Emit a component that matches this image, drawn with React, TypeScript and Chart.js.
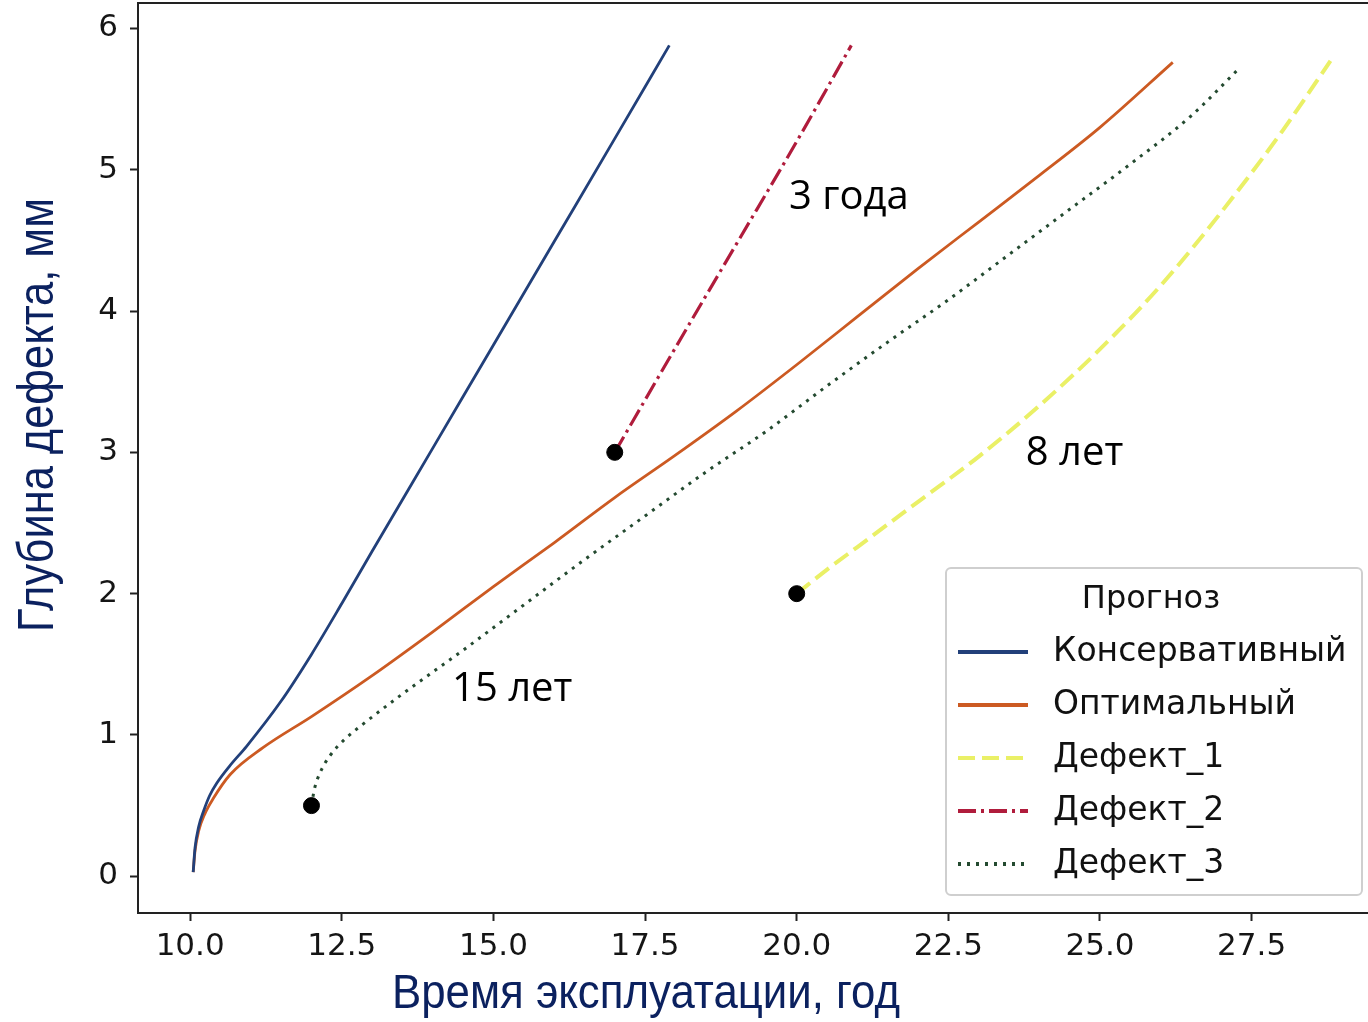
import React, { useEffect, useRef } from "react";
import { Chart, registerables } from "chart.js";

Chart.register(...registerables);

// ---- data ----
const seriesLabels = ["Консервативный", "Оптимальный", "Дефект_1", "Дефект_2", "Дефект_3"];
const legendTitle = "Прогноз";
const xTitle = "Время эксплуатации, год";
const yTitle = "Глубина дефекта, мм";

const conservX = [10.05, 10.08, 10.14, 10.22, 10.32, 10.44, 10.65, 10.93, 11.5, 12, 12.5, 13, 14, 15, 16, 17, 17.9];
const conservY = [0.03, 0.2, 0.35, 0.46, 0.57, 0.66, 0.78, 0.92, 1.24, 1.57, 1.93, 2.3, 3.03, 3.76, 4.49, 5.22, 5.88];

const optimalX = [10.05, 10.08, 10.14, 10.24, 10.38, 10.66, 11.2, 12, 13, 14, 15, 16, 17, 18, 19, 20, 21, 22, 23, 24, 25, 26.2];
const optimalY = [0.03, 0.18, 0.32, 0.44, 0.55, 0.72, 0.91, 1.13, 1.42, 1.73, 2.05, 2.36, 2.68, 2.98, 3.29, 3.62, 3.96, 4.3, 4.63, 4.96, 5.3, 5.76];

const defect1X = [20, 20.5, 21, 22, 23, 24, 25, 26, 27, 28, 28.8];
const defect1Y = [2, 2.17, 2.33, 2.65, 2.97, 3.33, 3.73, 4.18, 4.7, 5.27, 5.77];

const defect2X = [17, 18, 19, 20, 20.9];
const defect2Y = [3, 3.74, 4.47, 5.2, 5.88];

const defect3X = [12, 12.05, 12.15, 12.3, 12.55, 12.86, 13.5, 14.5, 15.5, 16.5, 17.5, 18.5, 19.5, 20.5, 21.5, 22.5, 23.5, 24.5, 25.5, 26.5, 27.3];
const defect3Y = [0.5, 0.62, 0.74, 0.85, 0.97, 1.08, 1.29, 1.6, 1.92, 2.24, 2.55, 2.86, 3.15, 3.47, 3.78, 4.08, 4.4, 4.72, 5.04, 5.38, 5.72];

const startX = [12, 17, 20];
const startY = [0.5, 3, 2];

const annotationTexts = ["3 года", "8 лет", "15 лет"];
const annotationX = [20.86, 24.58, 15.31];
const annotationY = [4.8, 2.99, 1.32];

const xTicks = [10, 12.5, 15, 17.5, 20, 22.5, 25, 27.5];
const yTicks = [0, 1, 2, 3, 4, 5, 6];

const X_MIN = 9.14;
const X_MAX = 29.6;
const Y_MIN = -0.26;
const Y_MAX = 6.18;

const pts = (xs: number[], ys: number[]) => xs.map((x, i) => ({ x, y: ys[i] }));

const TITLE_COLOR = "#0b215f";

function fitText(ctx: CanvasRenderingContext2D, text: string, cx: number, baseline: number, targetW: number) {
  const w = ctx.measureText(text).width;
  ctx.save();
  ctx.translate(cx, baseline);
  ctx.scale(targetW / w, 1);
  ctx.textAlign = "center";
  ctx.textBaseline = "alphabetic";
  ctx.fillText(text, 0, 0);
  ctx.restore();
}

const decorPlugin = {
  id: "decor",
  afterDatasetsDraw(chart: any) {
    const { ctx, chartArea, scales } = chart;
    const xs = scales.x;
    const ys = scales.y;

    // frame top + right
    ctx.save();
    ctx.strokeStyle = "#222";
    ctx.lineWidth = 2;
    ctx.beginPath();
    ctx.moveTo(chartArea.left, chartArea.top);
    ctx.lineTo(chartArea.right, chartArea.top);
    ctx.lineTo(chartArea.right, chartArea.bottom);
    ctx.stroke();
    ctx.restore();

    // annotations
    ctx.save();
    ctx.fillStyle = "#000";
    ctx.font = "40px 'Open Sans'";
    ctx.textAlign = "center";
    ctx.textBaseline = "middle";
    annotationTexts.forEach((t, i) => {
      ctx.fillText(t, xs.getPixelForValue(annotationX[i]), ys.getPixelForValue(annotationY[i]));
    });
    ctx.restore();

    // legend
    const boxW = 416;
    const boxH = 327;
    const right = chartArea.right - 17;
    const bottom = chartArea.bottom - 18;
    const left = right - boxW;
    const top = bottom - boxH;
    ctx.save();
    ctx.fillStyle = "rgba(255,255,255,0.85)";
    ctx.strokeStyle = "#cfcfcf";
    ctx.lineWidth = 2;
    ctx.beginPath();
    if ((ctx as any).roundRect) (ctx as any).roundRect(left, top, boxW, boxH, 5);
    else ctx.rect(left, top, boxW, boxH);
    ctx.fill();
    ctx.stroke();

    ctx.fillStyle = "#111";
    ctx.font = "32px 'DejaVu Sans'";
    ctx.textBaseline = "middle";
    ctx.textAlign = "center";
    ctx.fillText(legendTitle, left + boxW / 2 - 3, top + 32);
    ctx.textAlign = "left";
    ctx.font = "33px 'DejaVu Sans'";
    const dsList = chart.data.datasets.filter((d: any) => seriesLabels.includes(d.label));
    dsList.forEach((d: any, i: number) => {
      const ry = top + 84 + i * 53;
      ctx.strokeStyle = d.borderColor;
      ctx.lineWidth = 4;
      ctx.lineCap = "butt";
      ctx.setLineDash(d.borderDash || []);
      ctx.beginPath();
      ctx.moveTo(left + 12, ry);
      ctx.lineTo(left + 82, ry);
      ctx.stroke();
      ctx.setLineDash([]);
      ctx.fillStyle = "#111";
      ctx.fillText(d.label, left + 107, ry);
    });
    ctx.restore();

    // axis titles (condensed)
    ctx.save();
    ctx.fillStyle = TITLE_COLOR;
    ctx.font = "48px 'Liberation Sans'";
    fitText(ctx, xTitle, 646, 1008, 508);
    ctx.restore();

    ctx.save();
    ctx.fillStyle = TITLE_COLOR;
    ctx.font = "50px 'Liberation Sans'";
    ctx.translate(53, 415);
    ctx.rotate(-Math.PI / 2);
    fitText(ctx, yTitle, 0, 0, 434);
    ctx.restore();
  },
};

export default function App() {
  const ref = useRef<HTMLCanvasElement | null>(null);

  useEffect(() => {
    const canvas = ref.current;
    if (!canvas) return;
    const lineDs = (label: string, data: any[], color: string, width: number, dash: number[]) => ({
      label,
      data,
      showLine: true,
      borderColor: color,
      backgroundColor: color,
      borderWidth: width,
      borderDash: dash,
      borderCapStyle: "butt",
      pointRadius: 0,
      pointHoverRadius: 0,
      cubicInterpolationMode: "monotone",
      fill: false,
    });

    const chart = new Chart(canvas, {
      type: "scatter",
      data: {
        datasets: [
          {
            label: "start",
            data: pts(startX, startY),
            showLine: false,
            pointRadius: 8,
            pointHoverRadius: 8,
            pointBackgroundColor: "#000",
            pointBorderColor: "#000",
            borderColor: "#000",
            backgroundColor: "#000",
          } as any,
          lineDs(seriesLabels[0], pts(conservX, conservY), "#22407a", 2.8, []),
          lineDs(seriesLabels[1], pts(optimalX, optimalY), "#cc5a22", 2.8, []),
          lineDs(seriesLabels[2], pts(defect1X, defect1Y), "#eaf066", 4, [17, 7]),
          lineDs(seriesLabels[3], pts(defect2X, defect2Y), "#b01c3c", 3.2, [18, 5, 3, 5]),
          lineDs(seriesLabels[4], pts(defect3X, defect3Y), "#244a30", 3, [3, 6]),
        ],
      },
      options: {
        responsive: false,
        animation: false,
        events: [],
        layout: { autoPadding: false, padding: { left: 0, top: 3, right: 21, bottom: 0 } },
        plugins: {
          legend: { display: false },
          tooltip: { enabled: false },
          title: { display: false },
        },
        scales: {
          x: {
            type: "linear",
            min: X_MIN,
            max: X_MAX,
            afterBuildTicks: (s: any) => {
              s.ticks = xTicks.map((v) => ({ value: v }));
            },
            afterFit: (s: any) => {
              s.height = 109;
              s.paddingLeft = 0;
              s.paddingRight = 0;
            },
            ticks: {
              autoSkip: false,
              maxRotation: 0,
              padding: 7,
              color: "#151515",
              font: { family: "DejaVu Sans", size: 31 },
              callback: (v: any) => Number(v).toFixed(1),
            },
            grid: { drawOnChartArea: false, drawTicks: true, tickLength: 8, tickColor: "#222", tickWidth: 2 },
            border: { display: true, color: "#222", width: 2 },
          },
          y: {
            type: "linear",
            min: Y_MIN,
            max: Y_MAX,
            afterBuildTicks: (s: any) => {
              s.ticks = yTicks.map((v) => ({ value: v }));
            },
            afterFit: (s: any) => {
              s.width = 138;
              s.paddingTop = 0;
              s.paddingBottom = 0;
            },
            ticks: {
              autoSkip: false,
              padding: 12,
              color: "#151515",
              font: { family: "DejaVu Sans", size: 31 },
              callback: (v: any) => String(v),
            },
            grid: { drawOnChartArea: false, drawTicks: true, tickLength: 8, tickColor: "#222", tickWidth: 2 },
            border: { display: true, color: "#222", width: 2 },
          },
        },
      } as any,
      plugins: [decorPlugin],
    });
    return () => chart.destroy();
  }, []);

  return (
    <div style={{ position: "absolute", left: 0, top: 0, width: 1368, height: 1022, overflow: "hidden", background: "#fff" }}>
      <canvas ref={ref} width={1400} height={1022} style={{ display: "block" }} />
    </div>
  );
}
